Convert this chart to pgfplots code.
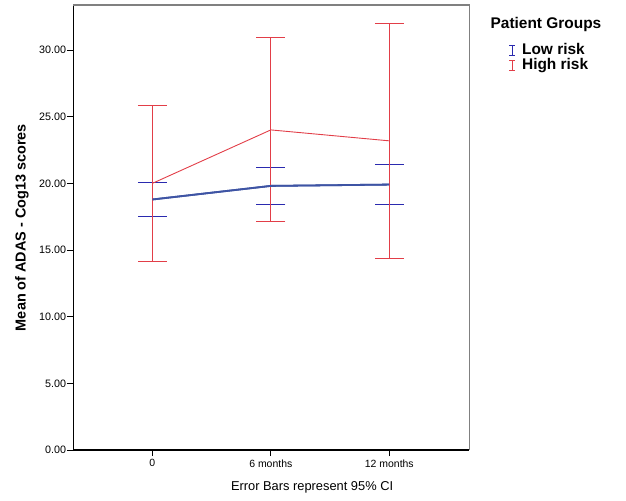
\documentclass[border=0pt]{standalone}
\usepackage{pgfplots}
\pgfplotsset{compat=1.18}
\usepackage{fontspec}
\setmainfont{Liberation Sans}

\definecolor{hired}{RGB}{226,62,72}
\definecolor{lowcap}{RGB}{42,42,175}
\definecolor{lowline}{RGB}{62,84,164}
\definecolor{frame}{RGB}{128,128,128}

% x: 0 = baseline, 1 = 6 months, 2 = 12 months
\pgfplotstableread{
x   y      ep    em
0   18.79  1.25  1.25
1   19.81  1.38  1.39
2   19.91  1.48  1.52
}\lowrisk
\pgfplotstableread{
x   y      ep    em
0   20.00  5.88  5.86
1   24.01  6.95  6.90
2   23.19  8.84  8.85
}\highrisk

\begin{document}
\begin{tikzpicture}
\begin{axis}[
    at={(0,0)}, anchor=south west,
    scale only axis, width=396bp, height=445bp,
    xmin=-0.667, xmax=2.675, ymin=0, ymax=33.38,
    axis x line*=bottom, axis y line*=left,
    axis line style={black, line width=1.2bp, -},
    tick style={black, line width=1bp},
    tick align=outside, major tick length=6bp,
    xtick={0,1,2}, xticklabels={0,6 months,12 months},
    ytick={0,5,10,15,20,25,30},
    /pgf/number format/fixed, /pgf/number format/fixed zerofill,
    /pgf/number format/precision=2, /pgf/number format/assume math mode=true,
    yticklabel style={font=\fontsize{10.8}{12}\selectfont, inner xsep=1bp},
    xticklabel style={font=\fontsize{10.5}{12}\selectfont},
    xlabel={Error Bars represent 95\% CI},
    xlabel style={at={(rel axis cs:0.603,-0.0899)}, anchor=base, font=\fontsize{12.9}{14}\selectfont},
    ylabel={Mean of ADAS - Cog13 scores},
    ylabel style={at={(rel axis cs:-0.13,0.5)}, anchor=center, font=\bfseries\fontsize{14.5}{16}\selectfont},
    clip=false,
    legend style={at={(rel axis cs:1.099,0.915)}, anchor=north west, draw=none, fill=none,
        inner sep=0pt, row sep=0pt, font=\bfseries\fontsize{15.5}{14}\selectfont,
        nodes={inner sep=0.5bp, text height=11bp, text depth=3bp},
        /tikz/every odd column/.append style={column sep=6bp}},
    legend cell align=left,
    legend image code/.code={
        \draw[#1] (3bp,-5.3bp)--(3bp,5.3bp);
        \draw[#1] (0,-5.3bp)--(6bp,-5.3bp);
        \draw[#1] (0,5.3bp)--(6bp,5.3bp);
    },
]
\draw[frame, line width=1.2bp] (rel axis cs:0,1) -- (rel axis cs:1,1) -- (rel axis cs:1,0);

\addplot[forget plot, lowline, line width=1.8bp,
    error bars/.cd, y dir=both, y explicit,
    error bar style={lowcap, line width=0.9bp},
    error mark options={lowcap, rotate=90, mark size=14.5bp, line width=0.9bp}]
    table[x=x, y=y, y error plus=ep, y error minus=em] {\lowrisk};

\addplot[forget plot, hired, line width=0.9bp,
    error bars/.cd, y dir=both, y explicit,
    error bar style={hired, line width=0.9bp},
    error mark options={hired, rotate=90, mark size=14.5bp, line width=0.9bp}]
    table[x=x, y=y, y error plus=ep, y error minus=em] {\highrisk};

\addplot[forget plot, lowline, line width=1.8bp] table[x=x, y=y] {\lowrisk};

\addlegendimage{lowcap, line width=0.9bp}
\addlegendentry{Low risk}
\addlegendimage{hired, line width=0.9bp}
\addlegendentry{High risk}

\node[anchor=base west, font=\bfseries\fontsize{15.5}{17}\selectfont] at (rel axis cs:1.045,0.948) {Patient Groups};
\end{axis}
\path (-73.3bp,-51bp) rectangle (552.7bp,450bp);
\end{tikzpicture}
\end{document}
